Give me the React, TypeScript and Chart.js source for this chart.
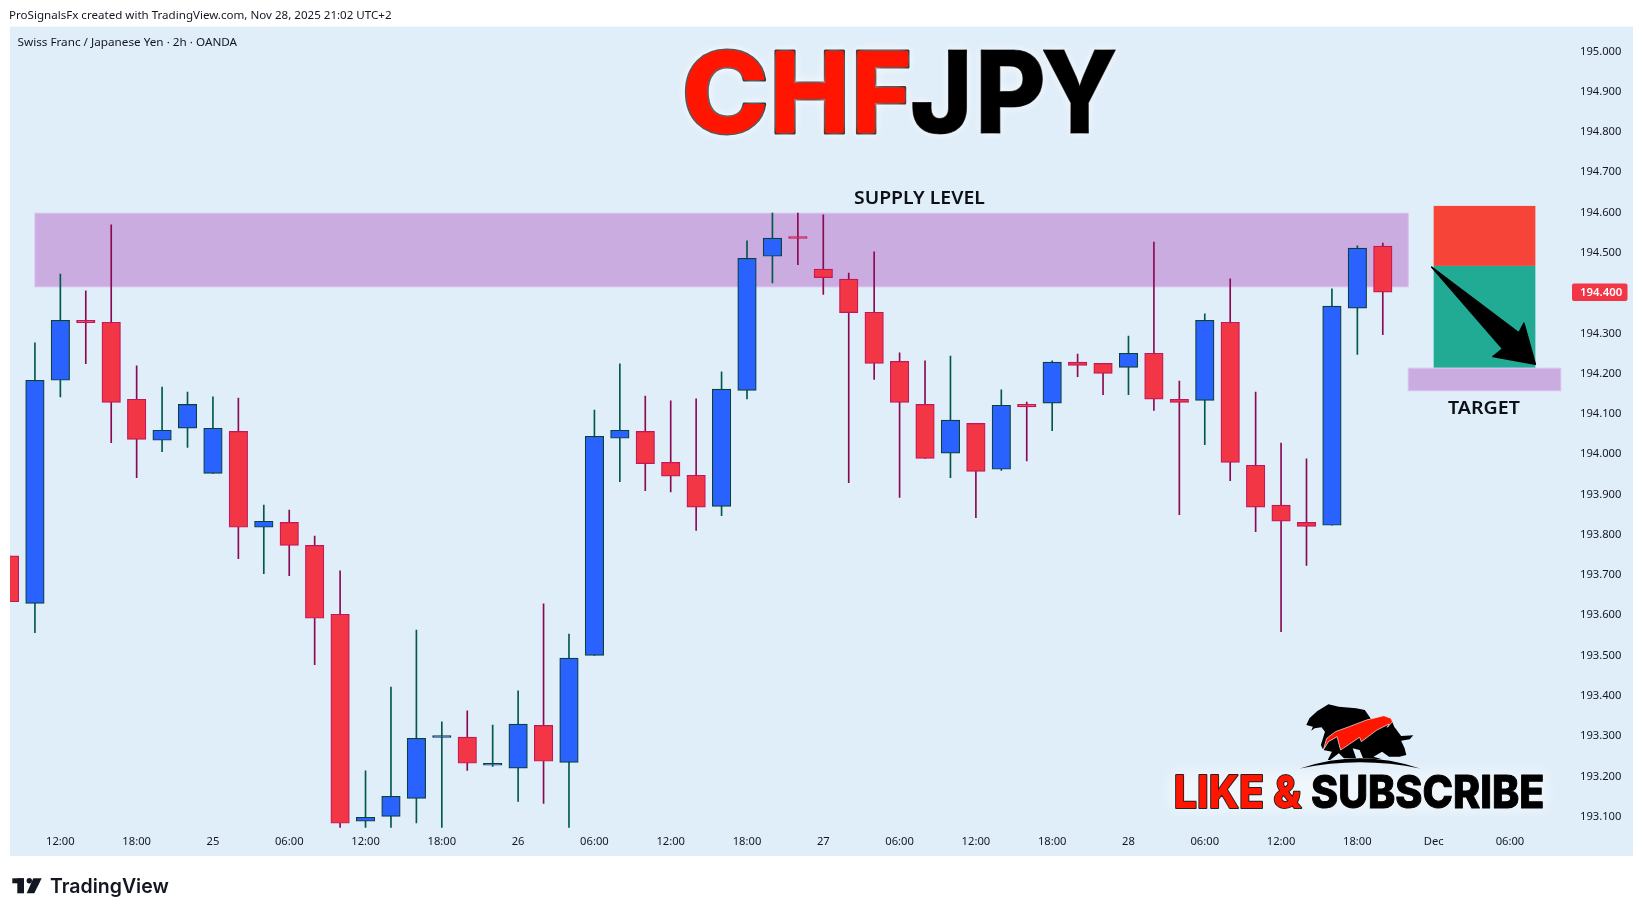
import React, { useEffect, useRef } from "react";
import { Chart, registerables } from "chart.js";

Chart.register(...registerables);

const opens = [193.745,193.627,194.181,194.330,194.325,194.134,194.032,194.062,193.950,194.054,193.816,193.828,193.771,193.600,193.086,193.098,193.143,193.294,193.295,193.225,193.218,193.324,193.232,193.498,194.037,194.054,193.977,193.945,193.868,194.156,194.489,194.536,194.457,194.432,194.350,194.228,194.121,194.000,194.074,193.960,194.121,194.124,194.226,194.223,194.213,194.248,194.134,194.131,194.325,193.970,193.871,193.828,193.821,194.360,194.514];
const closes = [193.631,194.181,194.330,194.324,194.126,194.034,194.057,194.121,194.062,193.816,193.831,193.771,193.590,193.081,193.096,193.148,193.292,193.295,193.230,193.230,193.327,193.235,193.491,194.042,194.057,193.974,193.943,193.866,194.159,194.484,194.534,194.533,194.436,194.349,194.223,194.126,193.987,194.082,193.955,194.119,194.115,194.226,194.218,194.198,194.248,194.134,194.126,194.330,193.977,193.866,193.831,193.818,194.365,194.509,194.400];
const highs = [193.745,194.274,194.445,194.403,194.567,194.217,194.164,194.152,194.140,194.137,193.871,193.859,193.794,193.708,193.211,193.419,193.561,193.333,193.360,193.325,193.410,193.626,193.551,194.107,194.222,194.142,194.130,194.135,194.202,194.527,194.596,194.596,194.592,194.447,194.500,194.249,194.229,194.241,194.074,194.157,194.127,194.229,194.246,194.223,194.291,194.524,194.179,194.346,194.433,194.152,194.025,193.986,194.408,194.515,194.522];
const lows = [193.631,193.554,194.140,194.222,194.026,193.939,194.004,194.014,193.950,193.738,193.701,193.696,193.475,193.070,193.070,193.070,193.082,193.070,193.212,193.222,193.135,193.130,193.070,193.498,193.929,193.907,193.904,193.808,193.845,194.135,194.423,194.468,194.394,193.927,194.183,193.890,193.987,193.939,193.840,193.957,193.981,194.056,194.190,194.145,194.145,194.106,193.847,194.021,193.932,193.805,193.557,193.721,193.821,194.245,194.294];

const priceTicks = [193.1,193.2,193.3,193.4,193.5,193.6,193.7,193.8,193.9,194.0,194.1,194.2,194.3,194.4,194.5,194.6,194.7,194.8,194.9,195.0];
const timeTickBars = [2,5,8,11,14,17,20,23,26,29,32,35,38,41,44,47,50,53,56,59];
const timeTickLabels = ["12:00","18:00","25","06:00","12:00","18:00","26","06:00","12:00","18:00","27","06:00","12:00","18:00","28","06:00","12:00","18:00","Dec","06:00"];

const supplyZone = { from: 1, to: 55, top: 194.596, bottom: 194.413 };
const targetZone = { from: 55, to: 61, top: 194.211, bottom: 194.155 };
const riskBox = { from: 56, to: 60, top: 194.614, bottom: 194.465 };
const rewardBox = { from: 56, to: 60, top: 194.465, bottom: 194.212 };
const arrowBars = [55.92, 59.35, 59.55, 60, 58.33, 58.71];
const arrowPrices = [194.462, 194.299, 194.323, 194.221, 194.24, 194.259];
const lastPrice = 194.4;

const titleRed = ["C", "H", "F"];
const titleBlack = ["J", "P", "Y"];
const titleRedSpans = [[686, 765], [775.5, 844.5], [857, 908.8]];
const titleBlackSpans = [[912.7, 966.7], [980.7, 1042.7], [1042.7, 1116]];

const BG = "#e0eef9";
const AXIS_FONT = '"Noto Sans", sans-serif';

type Ctx = CanvasRenderingContext2D;

function fitText(ctx: Ctx, text: string, x: number, baseline: number, width: number, font: string, fill: string, stroke?: string, lineW?: number) {
  ctx.save();
  ctx.font = font;
  ctx.textAlign = "left";
  ctx.textBaseline = "alphabetic";
  const m = ctx.measureText(text);
  const left = -m.actualBoundingBoxLeft;
  const ink = m.actualBoundingBoxRight + m.actualBoundingBoxLeft;
  ctx.translate(x, baseline);
  ctx.scale(width / ink, 1);
  ctx.translate(-left, 0);
  if (stroke) {
    ctx.lineJoin = "round";
    ctx.strokeStyle = stroke;
    ctx.lineWidth = lineW || 1;
    ctx.strokeText(text, 0, 0);
  }
  ctx.fillStyle = fill;
  ctx.fillText(text, 0, 0);
  ctx.restore();
}

function poly(ctx: Ctx, pts: number[][], fill: string, stroke?: string) {
  const X = (v: number) => 1100 + v / 2.889;
  const Y = (v: number) => 650 + v / 3;
  ctx.beginPath();
  pts.forEach((p, i) => (i ? ctx.lineTo(X(p[0]), Y(p[1])) : ctx.moveTo(X(p[0]), Y(p[1]))));
  ctx.closePath();
  ctx.fillStyle = fill;
  ctx.fill();
  if (stroke) {
    ctx.strokeStyle = stroke;
    ctx.lineWidth = 0.7;
    ctx.stroke();
  }
}

const beastShape = [[596,225],[605,205],[628,183],[660,163],[690,170],[740,175],[765,180],[785,210],[840,205],[850,230],[870,258],[905,256],[895,268],[870,272],[880,295],[885,315],[865,320],[835,320],[815,305],[790,320],[815,328],[760,325],[750,300],[730,295],[740,325],[705,325],[690,310],[665,330],[658,330],[670,305],[645,300],[638,285],[650,245],[640,232],[620,235],[610,242],[615,230]];
const swooshShape = [[645,300],[655,265],[680,245],[720,230],[770,210],[820,197],[840,205],[845,215],[830,232],[835,222],[800,240],[755,275],[750,262],[695,300],[685,260],[660,275]];

const decorPlugin = {
  id: "decor",
  beforeDraw(chart: any) {
    const ctx: Ctx = chart.ctx;
    const { chartArea: a } = chart;
    ctx.save();
    ctx.fillStyle = BG;
    ctx.fillRect(a.left, a.top, 1633 - a.left, 856 - a.top);
    ctx.restore();
    fitText(ctx, "ProSignalsFx created with TradingView.com, Nov 28, 2025 21:02 UTC+2", 10, 19, 381, `11.5px ${AXIS_FONT}`, "#131722");
    fitText(ctx, "Swiss Franc / Japanese Yen · 2h · OANDA", 17.5, 45.5, 220.5, `11.2px ${AXIS_FONT}`, "#131722");
    ctx.save();
    ctx.fillStyle = "#131722";
    ctx.fillRect(12.3, 878.3, 11.7, 5);
    ctx.fillRect(17.3, 878.3, 6.7, 15);
    ctx.beginPath();
    ctx.arc(29.3, 880.8, 2.7, 0, Math.PI * 2);
    ctx.fill();
    ctx.beginPath();
    ctx.moveTo(33.3, 878.3);
    ctx.lineTo(41.7, 878.3);
    ctx.lineTo(34.3, 893.3);
    ctx.lineTo(26.7, 893.3);
    ctx.closePath();
    ctx.fill();
    ctx.restore();
    fitText(ctx, "TradingView", 50, 893, 119, "600 20px Inter, sans-serif", "#131722");
  },
  beforeDatasetsDraw(chart: any) {
    const ctx: Ctx = chart.ctx;
    const xs = chart.scales.x;
    const ys = chart.scales.y;
    const box = (b: any, fill: string, border?: string) => {
      const x0 = xs.getPixelForValue(b.from);
      const x1 = xs.getPixelForValue(b.to);
      const y0 = ys.getPixelForValue(b.top);
      const y1 = ys.getPixelForValue(b.bottom);
      ctx.fillStyle = fill;
      ctx.fillRect(x0, y0, x1 - x0, y1 - y0);
      if (border) {
        ctx.strokeStyle = border;
        ctx.lineWidth = 1;
        ctx.strokeRect(x0, y0, x1 - x0, y1 - y0);
      }
    };
    ctx.save();
    box(supplyZone, "#cbace0", "#dcc0f0");
    box(riskBox, "#f64438");
    box(rewardBox, "#21ab94");
    box(targetZone, "#cbace0", "#dcc0f0");
    ctx.restore();
  },
  afterDatasetsDraw(chart: any) {
    const ctx: Ctx = chart.ctx;
    const xs = chart.scales.x;
    const ys = chart.scales.y;
    ctx.save();
    ctx.beginPath();
    arrowBars.forEach((b, i) => {
      const px = xs.getPixelForValue(b);
      const py = ys.getPixelForValue(arrowPrices[i]);
      if (i) ctx.lineTo(px, py);
      else ctx.moveTo(px, py);
    });
    ctx.closePath();
    ctx.fillStyle = "#000";
    ctx.strokeStyle = "#000";
    ctx.lineJoin = "round";
    ctx.lineWidth = 1.5;
    ctx.fill();
    ctx.stroke();
    ctx.restore();

    fitText(ctx, "SUPPLY LEVEL", 854, 204, 131, `600 18px ${AXIS_FONT}`, "#0d1117");
    fitText(ctx, "TARGET", 1448, 414.3, 71.6, `600 18px ${AXIS_FONT}`, "#0d1117");

    ctx.save();
    ctx.shadowColor = "rgba(255,255,255,0.7)";
    ctx.shadowBlur = 10;
    titleRed.forEach((t, i) => {
      const s = titleRedSpans[i];
      fitText(ctx, t, s[0], 132.5, s[1] - s[0], "800 113px Inter, sans-serif", "#ff1500", "#111", 3);
    });
    titleBlack.forEach((t, i) => {
      const s = titleBlackSpans[i];
      fitText(ctx, t, s[0], 133, s[1] - s[0], "800 114px Inter, sans-serif", "#000", "#000", 1);
    });
    ctx.restore();

    ctx.save();
    (ctx as any).filter = "blur(7px)";
    ctx.fillStyle = "rgba(255,255,255,0.5)";
    ctx.fillRect(1170, 772, 376, 38);
    (ctx as any).filter = "none";
    poly(ctx, beastShape, "#000");
    poly(ctx, swooshShape, "#ff1500", "#f4f4f4");
    ctx.beginPath();
    ctx.moveTo(1300, 768.5);
    ctx.quadraticCurveTo(1360, 748, 1420, 768.5);
    ctx.quadraticCurveTo(1360, 756, 1300, 768.5);
    ctx.fillStyle = "#000";
    ctx.fill();
    ctx.restore();
    fitText(ctx, "LIKE &", 1175.5, 808, 126, "800 45px Inter, sans-serif", "#ff1500", "#222", 2);
    fitText(ctx, "SUBSCRIBE", 1312, 808, 231, "800 45px Inter, sans-serif", "#000", "#000", 1);
  },
  afterDraw(chart: any) {
    const ctx: Ctx = chart.ctx;
    const ys = chart.scales.y;
    const yc = ys.getPixelForValue(lastPrice);
    ctx.save();
    ctx.fillStyle = "#f23645";
    ctx.beginPath();
    (ctx as any).roundRect(1572, yc - 8.5, 55.5, 17.5, 2);
    ctx.fill();
    ctx.fillStyle = "#fff";
    ctx.font = `600 11.4px ${AXIS_FONT}`;
    ctx.textAlign = "left";
    ctx.textBaseline = "middle";
    ctx.fillText(lastPrice.toFixed(3), 1580, yc + 1);
    ctx.restore();
  },
};

export default function App() {
  const ref = useRef<HTMLCanvasElement>(null);
  useEffect(() => {
    if (!ref.current) return;
    const isUp = (i: number) => closes[i] >= opens[i];
    const wicks = opens.map((_, i) => ({ x: i, y: [lows[i], highs[i]] }));
    const bodies = opens.map((_, i) => ({ x: i, y: [Math.min(opens[i], closes[i]), Math.max(opens[i], closes[i])] }));
    const chart = new Chart(ref.current, {
      type: "bar",
      data: {
        datasets: [
          {
            label: "body",
            data: bodies as any,
            order: 1,
            grouped: false,
            barThickness: 18.5,
            minBarLength: 2,
            borderWidth: 1.2,
            borderSkipped: false,
            backgroundColor: opens.map((_, i) => (isUp(i) ? "#2962ff" : "#f23645")),
            borderColor: opens.map((_, i) => (isUp(i) ? "#0b4238" : "#c2185b")),
          } as any,
          {
            label: "wick",
            data: wicks as any,
            order: 2,
            grouped: false,
            barThickness: 1,
            borderWidth: 0,
            backgroundColor: opens.map((_, i) => (isUp(i) ? "#00594c" : "#8a0a52")),
          } as any,
        ],
      },
      options: {
        responsive: false,
        animation: false,
        devicePixelRatio: 1,
        layout: { padding: { left: 10, top: 26.7, right: 10, bottom: 60 } },
        plugins: { legend: { display: false }, tooltip: { enabled: false }, title: { display: false } },
        scales: {
          x: {
            type: "linear",
            offset: false,
            min: 0.02,
            max: 61.44,
            grid: { display: false, drawTicks: false },
            border: { display: false },
            afterFit(s: any) { s.height = 28.3; },
            afterBuildTicks(s: any) { s.ticks = timeTickBars.map((v) => ({ value: v })); },
            ticks: {
              autoSkip: false,
              maxRotation: 0,
              padding: 7.7,
              color: "#131722",
              font: { family: "Noto Sans", size: 11.2 },
              callback(v: any) {
                const k = timeTickBars.indexOf(Number(v));
                return k >= 0 ? timeTickLabels[k] : "";
              },
            },
          },
          y: {
            position: "right",
            min: 193.07,
            max: 195.059,
            grid: { display: false, drawTicks: false },
            border: { display: false },
            afterFit(s: any) { s.width = 61; },
            afterBuildTicks(s: any) { s.ticks = priceTicks.map((v) => ({ value: v })); },
            ticks: {
              autoSkip: false,
              padding: 8,
              labelOffset: 1,
              color: "#131722",
              font: { family: "Noto Sans", size: 11.2 },
              callback(v: any) { return Number(v).toFixed(3); },
            },
          },
        },
      },
      plugins: [decorPlugin],
    } as any);
    return () => chart.destroy();
  }, []);
  return (
    <div style={{ position: "absolute", left: 0, top: 0, width: 1643, height: 916, background: "#fff" }}>
      <canvas ref={ref} width={1643} height={916} style={{ display: "block", width: 1643, height: 916 }} />
    </div>
  );
}
